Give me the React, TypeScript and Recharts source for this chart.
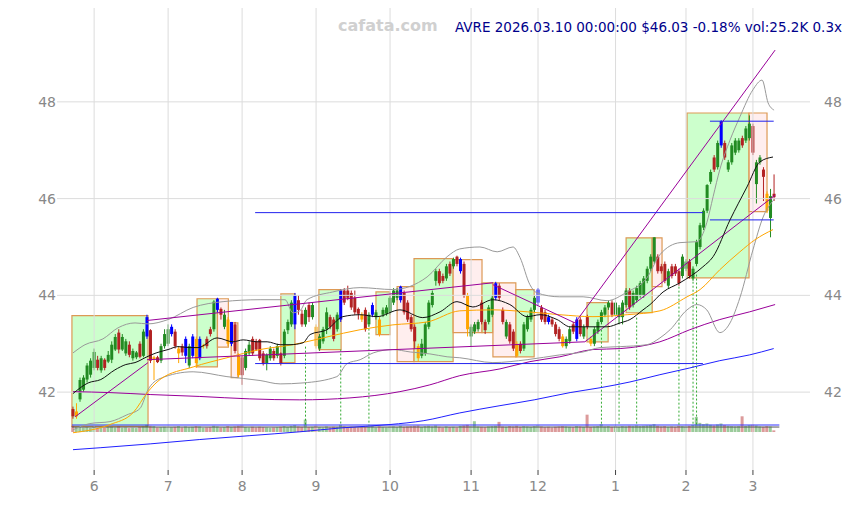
import { ComposedChart, Bar, Line, XAxis, YAxis, ReferenceArea, ReferenceLine } from 'recharts'

// month ticks: index of first trading day of each month
const monthTicks = [6, 27, 48, 69, 90, 113, 132, 154, 174, 193]
const monthLabels = ['6', '7', '8', '9', '10', '11', '12', '1', '2', '3']
const priceTicks = [42, 44, 46, 48]

const opens = [
  41.65, 41.5, 41.85, 42.05, 42.26, 42.36, 42.5, 42.67, 42.45, 42.67,
  42.63, 42.67, 42.88, 43.23, 42.88, 42.8, 42.98, 42.7, 42.72, 43.0,
  42.75, 43.15, 43.28, 42.68, 42.72, 42.65, 42.95, 43.0, 43.2, 43.25,
  42.8, 42.95, 42.75, 42.55, 42.75, 43.1, 42.7, 42.95, 43.1, 43.3,
  43.3, 43.7, 43.72, 43.35, 43.5, 43.0, 43.4, 42.75, 42.72, 42.5,
  42.8, 43.1, 43.05, 43.08, 42.8, 42.6, 42.7, 42.85, 42.75, 42.8,
  42.75, 43.28, 43.4, 43.4, 43.9, 43.62, 43.4, 43.8, 43.55, 43.35,
  42.9, 43.05, 43.3, 43.55, 43.5, 43.3, 43.5, 44.1, 44.1, 44.05,
  43.95, 43.72, 43.6, 43.7, 43.4, 43.6, 43.55, 43.5, 43.6, 43.62,
  43.65, 43.85, 43.95, 43.9, 44.05, 43.85, 43.55, 43.35, 42.95, 42.75,
  42.8, 43.35, 43.8, 44.3, 44.5, 44.4, 44.35, 44.65, 44.6, 44.8,
  44.5, 44.65, 44.0, 43.15, 43.25, 43.3, 43.85, 43.45, 43.45, 43.6,
  43.95, 44.2, 43.7, 43.15, 43.4, 43.25, 43.0, 43.0, 42.9, 43.3,
  43.5, 43.7, 43.85, 43.75, 43.65, 43.55, 43.5, 43.4, 43.3, 43.15,
  42.95, 43.05, 43.4, 43.1, 43.5, 43.15, 43.55, 43.1, 43.0, 43.25,
  43.45, 43.6, 43.75, 43.85, 43.6, 43.55, 43.55, 43.8, 44.1, 43.8,
  43.9, 44.0, 44.0, 44.3, 44.55, 44.7, 44.8, 44.6, 44.65, 44.2,
  44.6, 44.6, 44.5, 44.4, 44.55, 44.7, 44.35, 44.65, 45.0, 45.4,
  45.75, 46.35, 46.85, 46.65, 47.1, 47.15, 46.6, 46.75, 46.95, 47.0,
  47.25, 47.2, 47.25, 47.5, 46.3, 46.75, 46.6, 46.1, 45.6, 46.1,
]
const highs = [
  41.7, 41.77, 42.3, 42.35, 42.6, 42.7, 42.9, 42.75, 42.75, 42.7,
  42.85, 43.05, 43.2, 43.3, 43.2, 43.1, 43.05, 42.9, 42.85, 43.05,
  43.3, 43.6, 43.3, 42.75, 42.75, 43.0, 43.3, 43.4, 43.4, 43.3,
  42.95, 43.0, 43.15, 43.0, 43.2, 43.15, 43.15, 43.0, 43.15, 43.35,
  43.9, 43.95, 43.75, 43.7, 43.55, 43.45, 43.45, 42.8, 42.75, 42.9,
  43.05, 43.15, 43.1, 43.1, 42.85, 42.8, 42.95, 42.9, 43.0, 42.82,
  43.3, 43.5, 43.9, 44.05, 44.0, 43.7, 43.75, 43.85, 43.85, 43.4,
  43.2, 43.35, 43.75, 43.6, 43.55, 43.65, 44.12, 44.15, 44.2, 44.1,
  44.1, 43.75, 43.65, 43.75, 43.65, 43.85, 43.7, 43.55, 43.75, 43.8,
  44.0, 44.15, 44.15, 44.2, 44.1, 43.9, 43.6, 43.4, 43.0, 43.1,
  43.45, 43.9, 44.1, 44.55, 44.55, 44.45, 44.65, 44.7, 44.78, 44.82,
  44.78, 44.7, 44.05, 43.4, 43.45, 43.5, 43.9, 43.5, 43.8, 44.0,
  44.28, 44.25, 43.75, 43.5, 43.45, 43.3, 43.05, 43.05, 43.45, 43.6,
  43.75, 44.0, 44.15, 43.8, 43.7, 43.6, 43.55, 43.45, 43.35, 43.2,
  43.15, 43.35, 43.45, 43.55, 43.55, 43.4, 43.6, 43.15, 43.35, 43.5,
  43.7, 43.8, 43.9, 43.9, 43.9, 43.8, 43.9, 44.15, 44.15, 44.1,
  44.2, 44.3, 44.4, 44.6, 44.85, 45.2, 44.85, 44.65, 44.7, 44.55,
  44.65, 44.65, 44.55, 44.85, 44.75, 44.75, 44.6, 45.15, 45.5, 45.8,
  46.3, 46.6, 46.9, 47.2, 47.62, 47.2, 46.8, 47.15, 47.25, 47.25,
  47.3, 47.5, 47.72, 47.55, 46.8, 46.9, 46.65, 46.15, 46.2, 46.5,
]
const lows = [
  41.45, 41.45, 41.8, 42.0, 42.2, 42.3, 42.45, 42.45, 42.4, 42.45,
  42.6, 42.6, 42.85, 42.8, 42.85, 42.75, 42.72, 42.65, 42.68, 42.7,
  42.72, 43.1, 42.6, 42.25, 42.6, 42.6, 42.9, 42.95, 43.15, 42.9,
  42.6, 42.75, 42.6, 42.5, 42.7, 42.5, 42.66, 42.9, 42.9, 43.15,
  43.25, 43.65, 43.5, 43.3, 42.95, 42.95, 42.8, 42.3, 42.15, 42.45,
  42.75, 42.75, 42.85, 42.65, 42.55, 42.45, 42.65, 42.65, 42.7, 42.55,
  42.7, 43.2, 43.35, 43.3, 43.6, 43.35, 43.35, 43.45, 43.5, 42.9,
  42.85, 43.0, 43.2, 43.3, 43.05, 43.25, 43.45, 43.8, 43.9, 43.7,
  43.6, 43.5, 43.45, 43.25, 43.35, 43.55, 43.5, 43.15, 43.55, 43.58,
  43.6, 43.8, 43.9, 43.85, 43.6, 43.45, 43.25, 42.9, 42.63, 42.7,
  42.75, 43.3, 43.75, 44.2, 44.2, 44.25, 44.3, 44.4, 44.55, 44.6,
  44.45, 43.95, 43.15, 42.95, 43.2, 43.25, 43.4, 43.2, 43.4, 43.55,
  43.9, 43.9, 43.4, 43.1, 43.0, 42.85, 42.72, 42.8, 42.85, 43.25,
  43.45, 43.65, 43.8, 43.45, 43.4, 43.4, 43.35, 43.15, 43.05, 42.92,
  42.9, 43.0, 43.2, 43.05, 43.15, 43.1, 43.3, 42.95, 42.95, 43.2,
  43.4, 43.55, 43.7, 43.55, 43.55, 43.4, 43.4, 43.75, 43.7, 43.75,
  43.85, 43.95, 43.95, 44.25, 44.5, 44.65, 44.45, 44.45, 44.25, 44.15,
  44.35, 44.4, 44.2, 44.35, 44.5, 44.35, 44.3, 44.6, 44.95, 45.35,
  45.7, 46.3, 46.55, 46.6, 47.05, 46.8, 46.55, 46.7, 46.9, 46.95,
  47.05, 47.15, 47.2, 46.9, 45.9, 46.7, 45.95, 45.7, 45.2, 45.95,
]
const closes = [
  41.5, 41.6, 42.25, 42.3, 42.55, 42.65, 42.83, 42.5, 42.7, 42.5,
  42.77, 42.98, 43.14, 42.88, 43.14, 43.05, 42.77, 42.85, 42.82, 42.73,
  43.25, 43.55, 42.65, 42.72, 42.62, 42.95, 43.2, 43.3, 43.35, 42.95,
  42.9, 42.82, 43.1, 42.95, 43.15, 42.6, 43.1, 42.97, 42.95, 43.2,
  43.87, 43.93, 43.6, 43.6, 43.0, 43.45, 42.85, 42.35, 42.35, 42.85,
  42.98, 42.8, 42.88, 42.7, 42.58, 42.77, 42.9, 42.7, 42.95, 42.6,
  43.25, 43.45, 43.85, 44.0, 43.7, 43.4, 43.7, 43.55, 43.8, 42.95,
  43.15, 43.3, 43.65, 43.35, 43.1, 43.6, 44.1, 43.85, 43.95, 43.75,
  43.65, 43.62, 43.5, 43.3, 43.6, 43.8, 43.65, 43.2, 43.7, 43.75,
  43.95, 44.1, 44.1, 44.18, 43.65, 43.5, 43.3, 43.05, 42.7, 43.0,
  43.4, 43.85, 44.05, 44.5, 44.25, 44.3, 44.6, 44.45, 44.75, 44.65,
  44.75, 44.0, 43.3, 43.35, 43.4, 43.45, 43.45, 43.28, 43.75, 43.95,
  44.25, 43.95, 43.45, 43.45, 43.05, 42.9, 42.75, 42.85, 43.4, 43.55,
  43.7, 43.95, 44.12, 43.5, 43.45, 43.45, 43.4, 43.2, 43.1, 42.95,
  43.1, 43.3, 43.25, 43.5, 43.2, 43.35, 43.35, 43.0, 43.3, 43.45,
  43.65, 43.75, 43.85, 43.6, 43.85, 43.75, 43.85, 44.1, 43.75, 44.05,
  44.15, 44.25, 44.35, 44.55, 44.8, 45.2, 44.5, 44.5, 44.3, 44.5,
  44.4, 44.45, 44.25, 44.8, 44.7, 44.4, 44.55, 45.1, 45.45, 45.75,
  46.28, 46.55, 46.6, 47.15, 47.6, 46.85, 46.75, 47.1, 47.2, 47.2,
  47.1, 47.45, 47.55, 46.95, 46.75, 46.85, 46.45, 45.75, 46.05, 46.03,
]
// volume in thousands
const volumes = [
  95, 80, 85, 70, 75, 65, 80, 60, 70, 65, 75, 80, 70, 85, 65, 70, 60, 65, 60, 75,
  85, 110, 95, 90, 70, 75, 80, 70, 75, 80, 90, 70, 85, 75, 80, 90, 85, 65, 70, 75,
  95, 85, 70, 75, 90, 80, 85, 95, 100, 75, 70, 80, 70, 80, 75, 70, 65, 70, 75, 80,
  90, 80, 95, 105, 85, 80, 190, 75, 80, 95, 75, 70, 85, 70, 80, 75, 110, 85, 70, 80,
  75, 70, 75, 85, 80, 90, 70, 85, 75, 70, 80, 85, 75, 95, 80, 85, 90, 95, 100, 80,
  90, 95, 85, 100, 80, 70, 85, 75, 80, 70, 95, 100, 110, 90, 165, 85, 80, 75, 85, 90,
  95, 155, 85, 80, 90, 85, 95, 80, 90, 85, 80, 90, 100, 85, 75, 80, 70, 80, 85, 90,
  85, 80, 75, 90, 85, 80, 265, 80, 85, 90, 120, 85, 90, 80, 85, 80, 90, 85, 95, 90,
  100, 90, 95, 100, 105, 120, 95, 85, 90, 80, 85, 80, 95, 90, 85, 95, 110, 230, 140, 120,
  130, 110, 100, 115, 130, 105, 95, 90, 85, 90, 240, 95, 105, 110, 100, 85, 80, 90, 85, 25,
]
const blueIdx = [21, 28, 32, 34, 36, 41, 45, 63, 76, 85, 93, 110, 120, 132, 135, 143, 184]
const orangeIdx = [1, 23, 30, 35, 37, 44, 47, 69, 82, 87, 98, 112, 126, 139, 147, 197]

// indicator lines: [index, price]
const maShort: [number, number][] = [
  [0, 41.97], [4.3, 42.19], [7.9, 42.26], [11.9, 42.46], [15, 42.57], [17.6, 42.61], [21, 42.73], [23.6, 42.81],
  [27, 42.88], [29.8, 42.94], [33.2, 42.92], [35.5, 42.92], [40.9, 43.12], [45.4, 43.04], [48.3, 43.08], [52.2, 43.04],
  [55.1, 43.04], [58.8, 42.98], [61.6, 42.98], [65.3, 43.02], [67.3, 43.19], [72.1, 43.29], [76.6, 43.56], [81.5, 43.6],
  [86.3, 43.56], [92.8, 43.7], [99.3, 43.54], [104.2, 43.66], [109, 43.87], [113.5, 43.76], [119.2, 43.91], [124, 43.81],
  [128.9, 43.56], [132.6, 43.6], [137.4, 43.5], [141.1, 43.35], [144.8, 43.35], [151.6, 43.35], [155.3, 43.43], [158.1, 43.5],
  [161.8, 43.7], [163.8, 43.81], [167.5, 44.07], [172.3, 44.26], [178.8, 44.59], [181.7, 44.8], [186.5, 45.56], [191.3, 46.24],
  [195, 46.76], [198.7, 46.86],
]
const maMid: [number, number][] = [
  [0, 41.16], [10.5, 41.33], [17, 41.57], [21.3, 42.01], [24.7, 42.26], [34.1, 42.52], [43.7, 42.71], [53.1, 42.88],
  [62.4, 42.98], [72.1, 43.14], [81.5, 43.29], [90.8, 43.39], [100.5, 43.45], [109.8, 43.68], [119.2, 43.7], [128.9, 43.66],
  [138.2, 43.6], [147.6, 43.56], [157.3, 43.6], [166.6, 43.68], [174.3, 43.97], [178, 44.12], [183.6, 44.53], [189.3, 44.9],
  [193.6, 45.15], [198.7, 45.36],
]
const maLong: [number, number][] = [
  [0, 42.01], [10.5, 41.99], [21.9, 41.95], [36, 41.91], [50.2, 41.86], [64.4, 41.84], [78.6, 41.88], [92.8, 42.01],
  [101.3, 42.15], [109.8, 42.34], [121.2, 42.48], [129.7, 42.63], [138.2, 42.73], [147.6, 42.88], [155.3, 42.9], [166.6, 43.04],
  [175.1, 43.29], [183.6, 43.5], [192.1, 43.66], [199.3, 43.81],
]
const maSlow: [number, number][] = [
  [0, 40.81], [7.7, 40.85], [21.9, 40.93], [36, 41.02], [50.2, 41.1], [64.4, 41.18], [76.1, 41.26], [90, 41.33],
  [99.6, 41.41], [109.8, 41.57], [121.2, 41.72], [130.9, 41.84], [141.1, 41.99], [149.6, 42.09], [158.1, 42.21], [166.6, 42.36],
  [175.1, 42.5], [183.6, 42.65], [192.1, 42.77], [198.9, 42.9],
]
const bandUpper: [number, number][] = [
  [0, 42.81], [3.4, 42.98], [8.5, 43.1], [12.8, 43.33], [17.6, 43.43], [21.3, 43.41], [27, 43.5], [34.1, 43.75],
  [42.6, 43.87], [53.1, 43.91], [60.2, 43.91], [62.4, 43.64], [64.4, 43.68], [66.4, 43.91], [73.7, 44.07], [81.5, 44.16],
  [90.8, 44.12], [100.5, 44.38], [106.2, 44.8], [109.8, 44.96], [115.5, 45.0], [120.4, 44.9], [124.9, 45.0], [126.9, 44.78],
  [129.7, 44.22], [131.7, 44.05], [138.2, 43.97], [144.8, 43.97], [151.6, 43.89], [157.3, 44.07], [162.9, 44.36], [166.6, 44.84],
  [172.3, 45.09], [177.1, 45.11], [179.9, 45.5], [181.7, 46.04], [183.6, 46.6], [186.5, 47.21], [189.3, 47.69], [193, 48.25],
  [195.6, 48.45], [197.3, 47.98], [199, 47.83],
]
const bandLower: [number, number][] = [
  [0, 41.22], [4.8, 41.35], [10.5, 41.39], [15.3, 41.53], [19, 41.66], [21.3, 42.05], [24.7, 42.28], [34.1, 42.42],
  [43.7, 42.32], [53.1, 42.24], [58.8, 42.17], [65.3, 42.19], [74.9, 42.32], [77.8, 42.59], [81.5, 42.67], [85.2, 42.81],
  [90.8, 42.88], [95.7, 42.83], [101.3, 42.79], [106.2, 42.73], [109.8, 42.71], [119.2, 42.61], [128.9, 42.67], [138.2, 42.77],
  [144.8, 42.83], [149.6, 42.92], [155.3, 42.94], [162.9, 42.98], [166.6, 43.12], [169.5, 43.29], [174.3, 43.7], [177.1, 43.81],
  [179.9, 43.7], [183.6, 43.23], [186.5, 43.43], [189.3, 43.95], [193, 44.94], [195.9, 45.62], [199, 45.98],
]

// consolidation boxes: [startIdx, endIdx, low, high, kind]
const boxes: [number, number, number, number, string][] = [
  [-0.3, 21.3, 41.29, 43.58, 'g'], [35.2, 41.0, 42.52, 43.93, 'g'], [41.0, 44.1, 42.93, 43.93, 'p'],
  [44.9, 46.8, 42.3, 43.43, 'p'], [59.0, 63.0, 42.61, 44.03, 'g'], [69.8, 76.1, 42.88, 44.12, 'g'],
  [86.0, 90.0, 43.19, 44.07, 'g'], [92.0, 96.8, 42.63, 44.18, 'p'], [96.8, 107.9, 42.63, 44.76, 'g'],
  [107.9, 116.1, 43.23, 44.74, 'p'], [116.1, 119.2, 43.23, 44.26, 'g'], [119.2, 125.7, 42.73, 44.26, 'p'],
  [125.7, 130.9, 42.73, 44.12, 'g'], [145.9, 151.9, 43.04, 43.85, 'g'], [157.0, 164.4, 43.64, 45.19, 'g'],
  [164.4, 167.2, 44.18, 45.19, 'p'], [174.3, 191.9, 44.36, 47.77, 'g'], [191.9, 197.0, 45.73, 47.77, 'p'],
]
// trend lines: [x1, y1, x2, y2]
const trendLines: [number, number, number, number][] = [
  [0.6, 41.49, 21.3, 42.61], [21.0, 43.48, 119.2, 44.26], [21.0, 42.67, 145.3, 43.04],
  [119.2, 44.22, 142.5, 43.43], [142.5, 43.43, 199.3, 49.07], [145.3, 43.04, 199.3, 46.07],
]
const levelLines: [number, number, number][] = [
  [51.7, 178.8, 45.71], [51.7, 178.8, 42.59], [180.8, 198.9, 47.6], [180.8, 198.9, 45.56],
]
const signalIdx = [66, 76, 84, 150, 155, 160, 172, 176, 177]
const signalTop = [42.94, 42.88, 43.56, 43.29, 43.29, 43.54, 44.18, 44.53, 44.43]

const rows = closes.map((c, i) => ({
  i,
  open: opens[i],
  high: highs[i],
  low: lows[i],
  close: c,
  vol: volumes[i],
  kind: blueIdx.includes(i) ? 'blue' : orangeIdx.includes(i) ? 'orange' : c >= opens[i] ? 'up' : 'down',
}))
const pts = (a: [number, number][]) => a.map(([i, v]) => ({ i, v }))

const COLORS: Record<string, string> = { up: '#228b22', down: '#b22222', blue: '#0000ff', orange: '#ffa500' }
const X_DOMAIN = [-4.54, 209.2]
const GRID = '#dcdcdc'
const tickStyle = { fill: '#888', fontSize: 14, fontFamily: 'DejaVu Sans' }

const Candle = (props: any) => {
  const { x, y, width, height, payload } = props
  if (!payload) return null
  const top = Math.min(y, y + height)
  const h = Math.abs(height)
  const k = h / (payload.high - payload.low || 1)
  const yo = top + (payload.high - payload.open) * k
  const yc = top + (payload.high - payload.close) * k
  const cx = x + width / 2
  const col = COLORS[payload.kind]
  return (
    <g>
      <line x1={cx} x2={cx} y1={top} y2={top + h} stroke={col} strokeWidth={1} />
      <rect x={cx - 1.5} y={Math.min(yo, yc)} width={3} height={Math.max(1, Math.abs(yo - yc))} fill={col} />
    </g>
  )
}

const VolBar = (props: any) => {
  const { x, y, width, height, payload } = props
  const up = payload.close >= payload.open
  return (
    <rect x={x} y={Math.min(y, y + height)} width={width} height={Math.abs(height)}
      fill={up ? '#228b22' : '#b22222'} fillOpacity={0.45} />
  )
}

export default function App() {
  return (
    <div style={{ position: 'absolute', left: 0, top: 0, width: 859, height: 505, background: '#fff', overflow: 'hidden' }}>
      <ComposedChart width={859} height={505} data={rows} margin={{ top: 8, right: 0, bottom: 0, left: 0 }}>
        <XAxis xAxisId="m" dataKey="i" type="number" domain={X_DOMAIN} allowDataOverflow ticks={monthTicks}
          interval={0} tickFormatter={(v: number) => monthLabels[monthTicks.indexOf(v)]}
          height={35} tickSize={5} tickMargin={6} axisLine={false} tickLine={{ stroke: '#444' }} tick={tickStyle} />
        <XAxis xAxisId="v" dataKey="i" type="number" domain={X_DOMAIN} allowDataOverflow hide />
        <YAxis yAxisId="p" type="number" domain={[40.39, 49.94]} allowDataOverflow ticks={priceTicks}
          width={57} axisLine={{ stroke: 'none' }} tickLine={false} tickSize={0} tickMargin={1} tick={tickStyle} />
        <YAxis yAxisId="r" orientation="right" type="number" domain={[40.39, 49.94]} allowDataOverflow ticks={priceTicks}
          width={49} axisLine={{ stroke: 'none' }} tickLine={false} tickSize={0} tickMargin={14} tick={tickStyle} />
        <YAxis yAxisId="vol" orientation="right" type="number" domain={[-580, 6474]} allowDataOverflow hide />

        {/* grid */}
        {monthTicks.map((t) => (
          <ReferenceLine key={'gx' + t} xAxisId="m" yAxisId="p" x={t} stroke={GRID} strokeWidth={1} />
        ))}
        {priceTicks.map((t) => (
          <ReferenceLine key={'gy' + t} xAxisId="m" yAxisId="p" y={t} stroke={GRID} strokeWidth={1} />
        ))}

        {boxes.map(([a, b, lo, hi, k], n) => (
          <ReferenceArea key={'b' + n} xAxisId="m" yAxisId="p" x1={a} x2={b} y1={lo} y2={hi}
            fill={k === 'g' ? '#bbffbb' : '#ffe8e8'} fillOpacity={0.75} stroke="#dd9955" strokeWidth={1.2} />
        ))}

        <Bar xAxisId="v" yAxisId="vol" dataKey="vol" barSize={3} shape={VolBar} isAnimationActive={false} />
        <ReferenceLine xAxisId="v" yAxisId="vol" segment={[{ x: -0.3, y: 107 }, { x: 200.5, y: 107 }]} stroke="#3333ff" strokeWidth={1} />
        <ReferenceLine xAxisId="v" yAxisId="vol" segment={[{ x: -0.3, y: 76 }, { x: 200.5, y: 76 }]} stroke="#555" strokeWidth={1} />

        {signalIdx.map((s, n) => (
          <ReferenceLine key={'s' + n} xAxisId="m" yAxisId="p" segment={[{ x: s, y: signalTop[n] }, { x: s, y: 41.31 }]}
            stroke="#33aa33" strokeDasharray="2 2" strokeWidth={1} />
        ))}

        <Line xAxisId="m" yAxisId="p" data={pts(maSlow)} dataKey="v" type="monotone" stroke="#2020ff" strokeWidth={1} dot={false} isAnimationActive={false} />
        <Line xAxisId="m" yAxisId="p" data={pts(maLong)} dataKey="v" type="monotone" stroke="#990099" strokeWidth={1} dot={false} isAnimationActive={false} />
        <Line xAxisId="m" yAxisId="p" data={pts(bandUpper)} dataKey="v" type="monotone" stroke="#999" strokeWidth={1} dot={false} isAnimationActive={false} />
        <Line xAxisId="m" yAxisId="p" data={pts(bandLower)} dataKey="v" type="monotone" stroke="#999" strokeWidth={1} dot={false} isAnimationActive={false} />
        <Line xAxisId="m" yAxisId="p" data={pts(maMid)} dataKey="v" type="monotone" stroke="#ffa500" strokeWidth={1} dot={false} isAnimationActive={false} />

        {trendLines.map(([x1, y1, x2, y2], n) => (
          <ReferenceLine key={'t' + n} xAxisId="m" yAxisId="p" segment={[{ x: x1, y: y1 }, { x: x2, y: y2 }]}
            stroke="#990099" strokeWidth={1} />
        ))}
        {levelLines.map(([x1, x2, y], n) => (
          <ReferenceLine key={'l' + n} xAxisId="m" yAxisId="p" segment={[{ x: x1, y }, { x: x2, y }]}
            stroke="#2222ee" strokeWidth={1} />
        ))}

        <Bar xAxisId="m" yAxisId="p" dataKey={(d: any) => [d.low, d.high]} barSize={3} shape={Candle} isAnimationActive={false} />
        <Line xAxisId="m" yAxisId="p" data={pts(maShort)} dataKey="v" type="monotone" stroke="#111" strokeWidth={1} dot={false} isAnimationActive={false} />
      </ComposedChart>

      <div style={{ position: 'absolute', left: 338, top: 16, fontFamily: 'DejaVu Sans', fontWeight: 'bold', fontSize: 16, lineHeight: '20px', color: '#d0d0d0', whiteSpace: 'nowrap' }}>
        cafata.com
      </div>
      <div style={{ position: 'absolute', right: 17, top: 17, fontFamily: 'DejaVu Sans', fontSize: 13.5, lineHeight: '20px', color: '#00008b', whiteSpace: 'nowrap' }}>
        AVRE 2026.03.10 00:00:00 $46.03 -0.18% vol:25.2K 0.3x
      </div>
    </div>
  )
}
